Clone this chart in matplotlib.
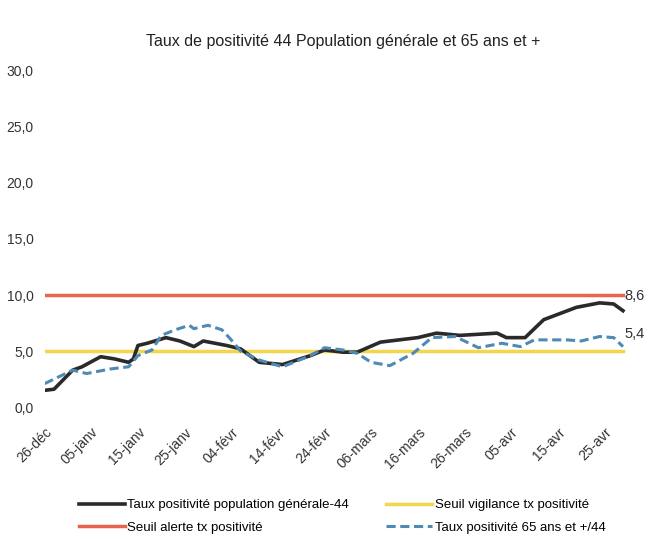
import matplotlib.pyplot as plt
import matplotlib.ticker as mticker

plt.rcParams['font.family'] = ['Liberation Sans Narrow', 'Liberation Sans', 'DejaVu Sans']

# Data (day 0 = 26 déc)
days_gen = [0, 2, 6, 8, 12, 15, 18, 19, 20, 22, 26, 29, 32, 34, 39, 42, 46, 51, 57, 60,
            64, 67, 72, 80, 84, 89, 97, 99, 103, 107, 114, 119, 122, 124]
taux_gen = [1.5, 1.6, 3.3, 3.6, 4.5, 4.3, 4.0, 4.3, 5.5, 5.7, 6.2, 5.9, 5.4, 5.9, 5.5, 5.2,
            4.0, 3.8, 4.6, 5.1, 4.9, 4.9, 5.8, 6.2, 6.6, 6.4, 6.6, 6.2, 6.2, 7.8, 8.9, 9.3,
            9.2, 8.6]

days_65 = [0, 6, 9, 14, 18, 20, 23, 25, 28, 31, 32, 35, 38, 40, 42, 46, 51, 57, 60, 64,
           67, 70, 74, 79, 83, 88, 93, 98, 102, 105, 112, 115, 119, 122, 124]
taux_65 = [2.1, 3.3, 3.0, 3.4, 3.6, 4.6, 5.1, 6.4, 6.9, 7.3, 7.0, 7.3, 6.9, 6.0, 5.0, 4.2,
           3.6, 4.6, 5.3, 5.1, 4.8, 4.0, 3.7, 4.8, 6.2, 6.3, 5.3, 5.7, 5.4, 6.0, 6.0, 5.9,
           6.3, 6.2, 5.4]

seuil_alerte = 10.0
seuil_vigilance = 5.0

tick_days = [0, 10, 20, 30, 40, 50, 60, 70, 80, 90, 100, 110, 120]
tick_labels = ['26-déc', '05-janv', '15-janv', '25-janv', '04-févr', '14-févr', '24-févr',
               '06-mars', '16-mars', '26-mars', '05-avr', '15-avr', '25-avr']

fig = plt.figure(figsize=(6.67, 5.4), dpi=100)
ax = fig.add_axes([0.067, 0.246, 0.895, 0.623])

x_end = days_gen[-1]
ax.plot([0, x_end], [seuil_alerte, seuil_alerte], color='#e8654b', lw=2.5,
        label='Seuil alerte tx positivité')
ax.plot([0, x_end], [seuil_vigilance, seuil_vigilance], color='#f2d64b', lw=2.5,
        label='Seuil vigilance tx positivité')
ax.plot(days_gen, taux_gen, color='#2a2a2a', lw=2.6,
        label='Taux positivité population générale-44')
ax.plot(days_65, taux_65, color='#4f8ab5', lw=2.2, ls=(0, (3, 1.5)),
        label='Taux positivité 65 ans et +/44')

ax.text(days_gen[-1] + 0.3, taux_gen[-1] + 0.7, f"{taux_gen[-1]:.1f}".replace('.', ','),
        fontsize=10.5, color='#333333', va='bottom', ha='left')
ax.text(days_65[-1] + 0.3, taux_65[-1] + 0.5, f"{taux_65[-1]:.1f}".replace('.', ','),
        fontsize=10.5, color='#333333', va='bottom', ha='left')

ax.set_xlim(0, 128)
ax.set_ylim(0, 30)
ax.yaxis.set_major_locator(mticker.MultipleLocator(5))
ax.yaxis.set_major_formatter(mticker.FuncFormatter(lambda v, p: f"{v:.1f}".replace('.', ',')))
ax.set_xticks(tick_days)
ax.set_xticklabels(tick_labels, rotation=45, ha='right', rotation_mode='anchor')
ax.tick_params(axis='both', length=0, labelsize=10, colors='#333333')
ax.tick_params(axis='x', pad=13)
ax.tick_params(axis='y', pad=8)
for s in ax.spines.values():
    s.set_visible(False)

ax.set_title('Taux de positivité 44 Population générale et 65 ans et +', fontsize=11.5,
             color='#222222', pad=18)

handles, labels = ax.get_legend_handles_labels()
order = [2, 0, 1, 3]
fig.legend([handles[i] for i in order], [labels[i] for i in order], ncol=2,
           loc='lower left', bbox_to_anchor=(0.1, -0.01), frameon=False, fontsize=9.5,
           handlelength=3.5, handletextpad=0.2, columnspacing=2.8, labelspacing=0.75)

fig.savefig('out.png', dpi=100)
